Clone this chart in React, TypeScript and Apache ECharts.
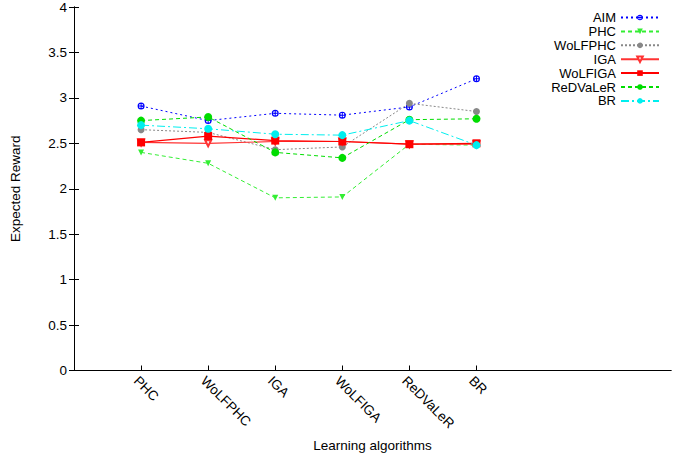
import React, { useEffect, useRef } from "react";
import * as echarts from "echarts";

const categories = ["PHC", "WoLFPHC", "IGA", "WoLFIGA", "ReDVaLeR", "BR"];
const yTicks = [0, 0.5, 1, 1.5, 2, 2.5, 3, 3.5, 4];

const aim = [2.91, 2.75, 2.83, 2.81, 2.9, 3.21];
const phc = [2.4, 2.28, 1.9, 1.91, 2.49, 2.48];
const wolfphc = [2.65, 2.62, 2.43, 2.46, 2.94, 2.85];
const iga = [2.51, 2.5, 2.52, 2.52, 2.49, 2.49];
const wolfiga = [2.51, 2.58, 2.53, 2.52, 2.49, 2.5];
const redvaler = [2.75, 2.79, 2.4, 2.34, 2.76, 2.77];
const br = [2.7, 2.66, 2.6, 2.59, 2.75, 2.48];

const crossCircle =
  "path://M0,-5A5,5 0 1,1 0,5A5,5 0 1,1 0,-5Z M0,-3.3A3.3,3.3 0 1,0 0,3.3A3.3,3.3 0 1,0 0,-3.3Z M-0.7,-3.4h1.4v6.8h-1.4Z M-3.4,-0.7h6.8v1.4h-6.8Z";

const seriesDefs = [
  { name: "AIM", data: aim, color: "#0000ff", type: [2, 3], symbol: crossCircle, size: 7, rotate: 0, width: 1 },
  { name: "PHC", data: phc, color: "#33ee33", type: [4, 3], symbol: "triangle", size: 6, rotate: 180, width: 1 },
  { name: "WoLFPHC", data: wolfphc, color: "#888888", type: [2, 2], symbol: "circle", size: 7, rotate: 0, width: 1 },
  { name: "IGA", data: iga, color: "#ff3333", type: "solid", symbol: "emptyTriangle", size: 6, rotate: 180, width: 1.2 },
  { name: "WoLFIGA", data: wolfiga, color: "#ff0000", type: "solid", symbol: "rect", size: 8, rotate: 0, width: 1.2 },
  { name: "ReDVaLeR", data: redvaler, color: "#00dd00", type: [4, 3], symbol: "circle", size: 8, rotate: 0, width: 1 },
  { name: "BR", data: br, color: "#00eeee", type: [8, 3, 2, 3], symbol: "circle", size: 8, rotate: 0, width: 1 },
];

const FONT = "'Liberation Sans', Arial, sans-serif";

export default function App() {
  const ref = useRef<HTMLDivElement>(null);
  useEffect(() => {
    if (!ref.current) return;
    const chart = echarts.init(ref.current, null, { renderer: "svg" });
    const catTicks = categories.map((_, i) => i + 1);
    const legends = seriesDefs.map((s, i) => ({
      data: [s.name],
      orient: "vertical",
      right: 13,
      top: 11 + i * 13.9,
      align: "right",
      itemWidth: 38,
      itemHeight: 7,
      padding: 0,
      selectedMode: false,
      textStyle: { fontSize: 13, lineHeight: 11, color: "#000", fontFamily: FONT },
    }));
    chart.setOption({
      animation: false,
      textStyle: { fontFamily: FONT },
      grid: { left: 69, top: 5, right: 2, bottom: 80, containLabel: false },
      legend: legends,
      xAxis: [
        {
          type: "value",
          min: 0,
          max: 8.9,
          interval: 1,
          name: "Learning algorithms",
          nameLocation: "middle",
          nameGap: 65,
          nameTextStyle: { fontSize: 13.5, color: "#000" },
          axisLine: { show: true, onZero: false, lineStyle: { color: "#000", width: 1 } },
          axisTick: { show: true, inside: true, length: 5, customValues: catTicks, lineStyle: { color: "#000" } },
          axisLabel: {
            show: true,
            customValues: catTicks,
            rotate: -45,
            fontSize: 13.5,
            color: "#000",
            margin: 3,
            verticalAlign: "top",
            formatter: (v: number) => categories[Math.round(v) - 1] ?? "",
          },
          splitLine: { show: false },
        },
        {
          type: "value",
          position: "top",
          min: 0,
          max: 8.9,
          axisLine: { show: true, lineStyle: { color: "#000", width: 1 } },
          axisTick: { show: false },
          axisLabel: { show: false },
          splitLine: { show: false },
        },
      ],
      yAxis: [
        {
          type: "value",
          min: 0,
          max: 4,
          interval: 0.5,
          name: "Expected Reward",
          nameLocation: "middle",
          nameGap: 52,
          nameTextStyle: { fontSize: 13.5, color: "#000" },
          axisLine: { show: true, lineStyle: { color: "#000", width: 1 } },
          axisTick: { show: true, inside: true, length: 5, lineStyle: { color: "#000" } },
          axisLabel: {
            fontSize: 13.5,
            color: "#000",
            margin: 7,
            formatter: (v: number) => (yTicks.includes(v) ? String(v) : ""),
          },
          splitLine: { show: false },
        },
        {
          type: "value",
          position: "right",
          min: 0,
          max: 4,
          interval: 0.5,
          axisLine: { show: true, lineStyle: { color: "#000", width: 1 } },
          axisTick: { show: true, inside: true, length: 5, lineStyle: { color: "#000" } },
          axisLabel: { show: false },
          splitLine: { show: false },
        },
      ],
      series: seriesDefs.map((s) => ({
        name: s.name,
        type: "line",
        xAxisIndex: 0,
        yAxisIndex: 0,
        data: s.data.map((v, i) => [i + 1, v]),
        symbol: s.symbol,
        symbolSize: s.size,
        symbolRotate: s.rotate,
        showAllSymbol: true,
        lineStyle: { color: s.color, width: s.width, type: s.type },
        itemStyle: { color: s.color, borderColor: s.color, borderWidth: s.symbol === "emptyTriangle" ? 1.5 : 0 },
        emphasis: { disabled: true },
      })),
    });
    return () => chart.dispose();
  }, []);
  return (
    <div
      ref={ref}
      style={{ position: "absolute", left: 0, top: 0, width: 673, height: 457, background: "#fff" }}
    />
  );
}
